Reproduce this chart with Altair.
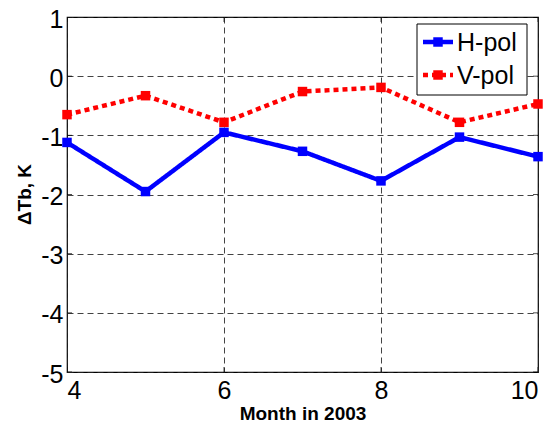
import altair as alt
import pandas as pd

months = [4, 5, 6, 7, 8, 9, 10]
h_pol = [-1.12, -1.95, -0.95, -1.27, -1.77, -1.03, -1.36]
v_pol = [-0.65, -0.33, -0.78, -0.26, -0.19, -0.78, -0.47]
series_names = ["H-pol", "V-pol"]
series_colors = ["#0000FF", "#FF0000"]
x_ticks = [4, 6, 8, 10]
y_ticks = [-5, -4, -3, -2, -1, 0, 1]

FONT = "Liberation Sans"

df = pd.concat([
    pd.DataFrame({"month": months, "dtb": h_pol, "series": series_names[0]}),
    pd.DataFrame({"month": months, "dtb": v_pol, "series": series_names[1]}),
])
xt_df = pd.DataFrame({"month": x_ticks})
yt_df = pd.DataFrame({"dtb": y_ticks})

x_enc = alt.X("month:Q", scale=alt.Scale(domain=[4, 10], nice=False),
              axis=alt.Axis(values=x_ticks, title="Month in 2003", labelExpr="'' + datum.value",
                            titleY=47, titleBaseline="alphabetic"))
y_enc = alt.Y("dtb:Q", scale=alt.Scale(domain=[-5, 1], nice=False),
              axis=alt.Axis(values=y_ticks, title="\u0394Tb, K", labelExpr="'' + datum.value",
                            titleX=-37, titleY=177, titleBaseline="alphabetic",
                            titleAngle=-90, titleAlign="center"))
color_enc = alt.Color("series:N", scale=alt.Scale(domain=series_names, range=series_colors), legend=None)
dash_enc = alt.StrokeDash("series:N", scale=alt.Scale(domain=series_names, range=[[1, 0], [5, 4]]), legend=None)

lines = alt.Chart(df).mark_line(strokeWidth=4.5).encode(x=x_enc, y=y_enc, color=color_enc, strokeDash=dash_enc)
points = alt.Chart(df).mark_square(size=90, opacity=1).encode(x="month:Q", y="dtb:Q", color=color_enc)

# inward ticks (MATLAB box style), clipped to the plot area
yt_left = alt.Chart(yt_df).mark_tick(orient="horizontal", size=10, thickness=1, color="black", clip=True).encode(
    y="dtb:Q", x=alt.value(0))
yt_right = alt.Chart(yt_df).mark_tick(orient="horizontal", size=10, thickness=1, color="black", clip=True).encode(
    y="dtb:Q", x=alt.value(471))
xt_bot = alt.Chart(xt_df).mark_tick(orient="vertical", size=10, thickness=1, color="black", clip=True).encode(
    x="month:Q", y=alt.value(355))
xt_top = alt.Chart(xt_df).mark_tick(orient="vertical", size=10, thickness=1, color="black", clip=True).encode(
    x="month:Q", y=alt.value(0))

# manual legend (MATLAB style box)
leg_box = alt.Chart(pd.DataFrame({"k": [0]})).mark_rect(fill="white", stroke="black", strokeWidth=1).encode(
    x=alt.value(350), x2=alt.value(460), y=alt.value(7), y2=alt.value(78))
leg_lines = alt.Chart(pd.DataFrame({"series": series_names, "yy": [25, 58]})).mark_rule(strokeWidth=4.5).encode(
    x=alt.value(356), x2=alt.value(386), y=alt.Y("yy:Q", scale=None), color=color_enc, strokeDash=dash_enc)
leg_pts = alt.Chart(pd.DataFrame({"series": series_names, "yy": [25, 58]})).mark_square(size=90, opacity=1).encode(
    x=alt.value(371), y=alt.Y("yy:Q", scale=None), color=color_enc)
leg_text = alt.Chart(pd.DataFrame({"series": series_names, "yy": [25, 58]})).mark_text(
    align="left", baseline="middle", font=FONT, fontSize=25, dy=1).encode(
    x=alt.value(390), y=alt.Y("yy:Q", scale=None), text="series:N")

chart = alt.layer(lines, points, yt_left, yt_right, xt_bot, xt_top,
                  leg_box, leg_lines, leg_pts, leg_text).properties(
    width=471, height=355, autosize="none", background="white",
    padding={"left": 59, "top": 9, "right": 10, "bottom": 50},
).configure_view(stroke="black", strokeWidth=1.2).configure_axis(
    grid=True, gridColor="#222222", gridDash=[6, 4], gridWidth=1, gridOpacity=0.85,
    ticks=False, domain=False,
    labelFont=FONT, labelFontSize=25, labelColor="black",
    titleFont=FONT, titleFontSize=19, titleFontWeight="bold", titleColor="black",
).configure_axisX(labelPadding=6).configure_axisY(labelPadding=4, labelOffset=2)

chart.save("out.html", embed_options={"renderer": "svg", "actions": False})
